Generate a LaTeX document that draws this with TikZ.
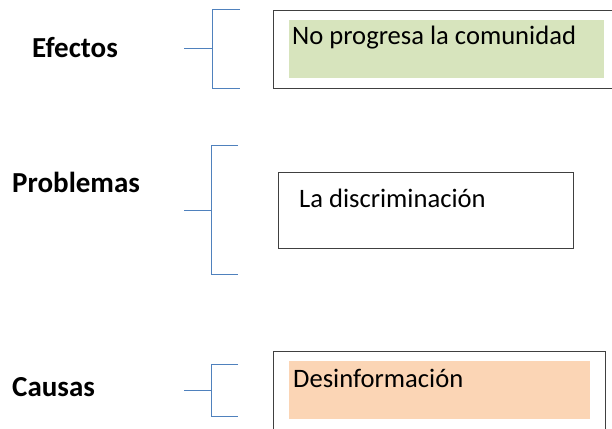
\documentclass[tikz,border=0pt]{standalone}
\usepackage{fontspec}
\setmainfont{Carlito}
\usetikzlibrary{positioning}
\definecolor{braceblue}{RGB}{79,129,189}
\definecolor{effgreen}{RGB}{215,228,189}
\definecolor{causeorange}{RGB}{251,213,181}
\tikzstyle{head}=[anchor=base west,inner sep=0pt,font=\fontsize{29}{34}\selectfont\bfseries]
\tikzstyle{entry}=[anchor=base west,inner sep=0pt,font=\fontsize{26.6}{31}\selectfont]
\tikzstyle{frame}=[draw=black!75,line width=1pt,anchor=north west,inner sep=0pt]
\tikzstyle{shade}=[anchor=north west,inner sep=0pt]
\tikzstyle{brace}=[braceblue,line width=1pt]

\begin{document}
\begin{tikzpicture}[x=1pt,y=-1pt]
\useasboundingbox (0,0) rectangle (612,428);
\clip (0,0) rectangle (612,428);
% labels
\node[head] (efectos) at (32,57) {Efectos};
\node[head] (problemas) at (12,192) {Problemas};
\node[head] (causas) at (12,396) {Causas};
% boxes
\node[frame,minimum width=345pt,minimum height=78pt] (ebox) at (273,10) {};
\node[shade,fill=effgreen,minimum width=315pt,minimum height=58pt] (efill) at (289,20) {};
\node[entry] (etext) at (292,45) {No progresa la comunidad};
\node[frame,minimum width=295pt,minimum height=76pt] (pbox) at (278,172) {};
\node[entry] (ptext) at (299,207) {La discriminación};
\node[frame,minimum width=332pt,minimum height=85pt] (cbox) at (273,351) {};
\node[shade,fill=causeorange,minimum width=301pt,minimum height=58pt] (cfill) at (289,361) {};
\node[entry] (ctext) at (293,387) {Desinformación};
% brackets
\coordinate (e0) at (184,49);
\coordinate (e1) at (212,49);
\coordinate (et) at (240,10);
\coordinate (eb) at (240,88);
\draw[brace] (e0) -- (e1);
\draw[brace] (et) -- (et -| e1) -- (eb -| e1) -- (eb);
\coordinate (p0) at (184,210);
\coordinate (p1) at (211,210);
\coordinate (pt) at (238,145);
\coordinate (pb) at (238,274);
\draw[brace] (p0) -- (p1);
\draw[brace] (pt) -- (pt -| p1) -- (pb -| p1) -- (pb);
\coordinate (c0) at (184,390);
\coordinate (c1) at (211,390);
\coordinate (ct) at (238,364);
\coordinate (cb) at (238,416);
\draw[brace] (c0) -- (c1);
\draw[brace] (ct) -- (ct -| c1) -- (cb -| c1) -- (cb);
\end{tikzpicture}
\end{document}
